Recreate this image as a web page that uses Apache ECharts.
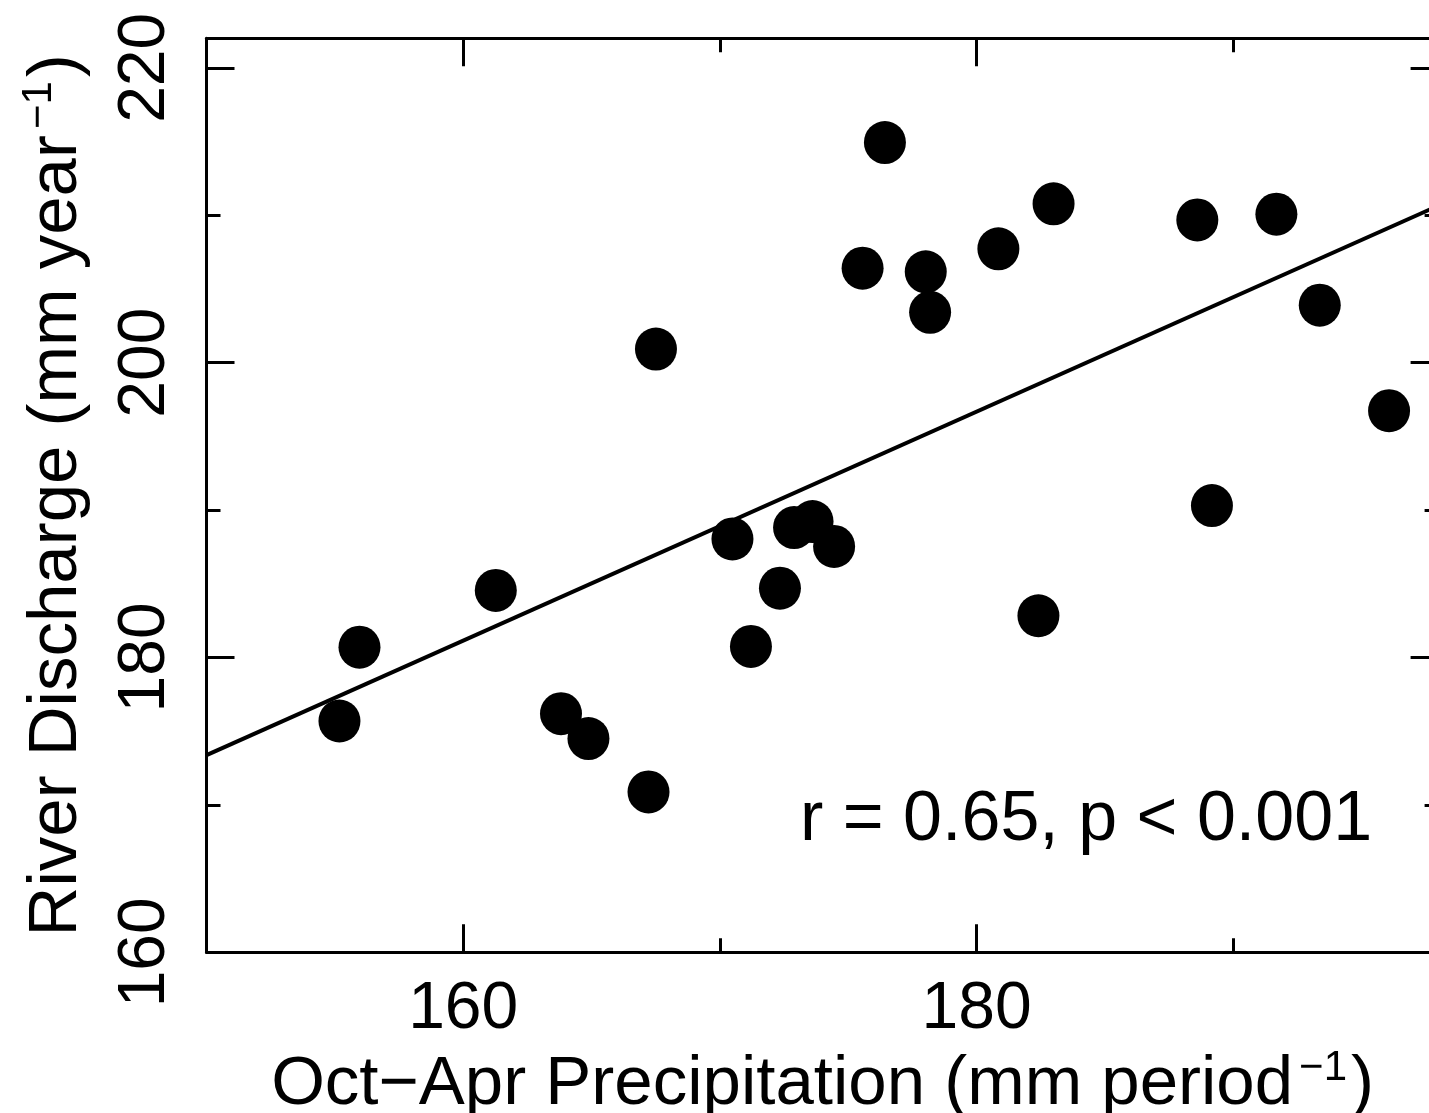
<!DOCTYPE html>
<html><head><meta charset="utf-8">
<script src="https://cdn.jsdelivr.net/npm/echarts@6/dist/echarts.min.js"></script>
<style>html,body{margin:0;padding:0;background:#fff}#c{width:1429px;height:1113px}</style>
</head><body><div id="c"></div>
<script>
// ---- data ----
const precipitation = [155.18,155.96,161.27,163.81,164.88,167.22,167.51,170.49,171.21,172.34,172.89,173.61,174.45,175.56,176.43,178.02,178.19,180.85,182.41,183.0,188.6,189.17,191.68,193.37,196.07];
const discharge     = [175.69,180.70,184.55,176.19,174.50,170.88,200.92,188.04,180.75,184.70,188.81,189.22,187.53,206.41,214.93,206.16,203.41,207.72,182.83,210.77,209.68,190.30,210.07,203.90,196.74];
const fitX = [150, 198];
const fitY = [173.37, 210.65];
const xRange = [150, 198];
const yRange = [160, 222];
const xMajorTicks = [160, 180];
const xMinorTicks = [170, 190];
const yMajorTicks = [160, 180, 200, 220];
const yMinorTicks = [170, 190, 210];
const xTitleMain = 'Oct\u2212Apr Precipitation (mm period';
const yTitleMain = 'River Discharge (mm year';
const titleSup = '\u22121';
const annotation = 'r = 0.65, p < 0.001';

const FONT = 'Liberation Sans';
const BLACK = '#000';
const rich = {
  a: {fontFamily: FONT, fontSize: 69, lineHeight: 76, color: BLACK},
  s: {fontFamily: FONT, fontSize: 42, lineHeight: 30, verticalAlign: 'top', color: BLACK, padding: [0, 4, 0, 6]}
};

function axisBase(range) {
  return {type: 'value', min: range[0], max: range[1], scale: true, splitLine: {show: false}};
}
function xAx(pos, ticks, len, main) {
  return Object.assign(axisBase(xRange), {
    position: pos,
    axisLine: {show: main, onZero: false, lineStyle: {color: BLACK, width: 3}},
    axisTick: {show: true, inside: true, length: len, customValues: ticks, lineStyle: {color: BLACK, width: 3}},
    axisLabel: {show: main && pos === 'bottom', customValues: ticks, fontFamily: FONT, fontSize: 66, color: BLACK, margin: 24},
    name: (main && pos === 'bottom') ? ('{a|' + xTitleMain + '}{s|' + titleSup + '}{a|)}') : '',
    nameLocation: 'middle', nameGap: 88,
    nameTextStyle: {fontFamily: FONT, fontSize: 69, color: BLACK, rich: rich}
  });
}
function yAx(pos, ticks, len, main) {
  return Object.assign(axisBase(yRange), {
    position: pos,
    axisLine: {show: main, onZero: false, lineStyle: {color: BLACK, width: 3}},
    axisTick: {show: true, inside: true, length: len, customValues: ticks, lineStyle: {color: BLACK, width: 3}},
    axisLabel: {show: main && pos === 'left', customValues: ticks, rotate: 90, fontFamily: FONT, fontSize: 66, color: BLACK, margin: 28},
    name: (main && pos === 'left') ? ('{a|' + yTitleMain + '}{s|' + titleSup + '}{a|)}') : '',
    nameLocation: 'middle', nameGap: 112, nameRotate: 90,
    nameTextStyle: {fontFamily: FONT, fontSize: 69, color: BLACK, rich: rich}
  });
}

const chart = echarts.init(document.getElementById('c'), null, {renderer: 'canvas'});
chart.setOption({
  backgroundColor: '#fff',
  animation: false,
  grid: {left: 206.5, top: 38.3, width: 1232.1, height: 914, containLabel: false, outerBoundsMode: 'none'},
  xAxis: [
    xAx('bottom', xMajorTicks, 28, true),
    xAx('bottom', xMinorTicks, 14, false),
    xAx('top', xMajorTicks, 28, true),
    xAx('top', xMinorTicks, 14, false)
  ],
  yAxis: [
    yAx('left', yMajorTicks, 28, true),
    yAx('left', yMinorTicks, 14, false),
    yAx('right', yMajorTicks, 28, true),
    yAx('right', yMinorTicks, 14, false)
  ],
  graphic: [{
    type: 'text', left: 800, top: 786, z: 10,
    style: {text: annotation, fontFamily: FONT, fontSize: 70, fill: BLACK}
  }],
  series: [
    {
      type: 'line', xAxisIndex: 0, yAxisIndex: 0,
      data: fitX.map((x, i) => [x, fitY[i]]),
      showSymbol: false, symbol: 'none',
      lineStyle: {color: BLACK, width: 4}, z: 2
    },
    {
      type: 'scatter', xAxisIndex: 0, yAxisIndex: 0,
      data: precipitation.map((x, i) => [x, discharge[i]]),
      symbol: 'circle', symbolSize: [42, 43],
      itemStyle: {color: BLACK, opacity: 1}, z: 3
    }
  ]
});
</script></body></html>
